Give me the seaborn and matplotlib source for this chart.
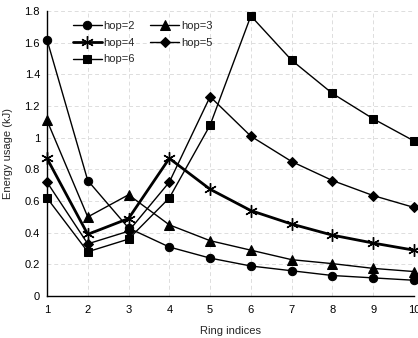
import pandas as pd
import seaborn as sns
import matplotlib.pyplot as plt

# ring indices and energy usage (kJ) per hop count
rings = [1, 2, 3, 4, 5, 6, 7, 8, 9, 10]
hop2 = [1.62, 0.73, 0.43, 0.31, 0.24, 0.19, 0.16, 0.13, 0.115, 0.10]
hop3 = [1.11, 0.50, 0.64, 0.45, 0.35, 0.29, 0.23, 0.205, 0.175, 0.155]
hop4 = [0.87, 0.39, 0.49, 0.87, 0.675, 0.54, 0.455, 0.385, 0.335, 0.29]
hop5 = [0.72, 0.33, 0.41, 0.72, 1.26, 1.01, 0.85, 0.73, 0.635, 0.56]
hop6 = [0.62, 0.28, 0.36, 0.62, 1.08, 1.77, 1.49, 1.28, 1.12, 0.98]
labels = ["hop=2", "hop=3", "hop=4", "hop=5", "hop=6"]

sns.set_style("white")
plt.rcParams['font.family'] = ['Liberation Sans', 'DejaVu Sans']

fig = plt.figure(figsize=(4.18, 3.38), dpi=100)
ax = fig.add_axes([0.1124, 0.124, 0.878, 0.843])

styles = [
    dict(marker="o", markersize=6, linewidth=1.0),
    dict(marker="^", markersize=6.5, linewidth=1.0),
    dict(marker=(6, 2, 0), markersize=9, linewidth=2.0, markeredgewidth=1.0),
    dict(marker="D", markersize=5, linewidth=1.0),
    dict(marker="s", markersize=6, linewidth=1.0),
]

for vals, lab, st in zip([hop2, hop3, hop4, hop5, hop6], labels, styles):
    df = pd.DataFrame({"ring": rings, "energy": vals})
    sns.lineplot(data=df, x="ring", y="energy", ax=ax, color="black",
                 markerfacecolor="black", markeredgecolor="black",
                 label=lab, clip_on=False, zorder=3, **st)

ax.set_xlim(1, 10)
ax.set_ylim(0, 1.8)
ax.set_xticks(rings)
ax.set_yticks([0, 0.2, 0.4, 0.6, 0.8, 1, 1.2, 1.4, 1.6, 1.8])
ax.set_yticklabels(["0", "0.2", "0.4", "0.6", "0.8", "1", "1.2", "1.4", "1.6", "1.8"])
ax.tick_params(labelsize=8, length=3, direction="inout", width=0.8, colors="black")
ax.tick_params(axis="x", pad=5)
ax.grid(True, color="#dddddd", linestyle=(0, (4, 3)), linewidth=0.7)
for s in ["top", "right"]:
    ax.spines[s].set_visible(False)
for s in ["left", "bottom"]:
    ax.spines[s].set_color("black")
    ax.spines[s].set_linewidth(1.0)

ax.set_xlabel("Ring indices", fontsize=8, labelpad=8)
ax.set_ylabel("Energy usage (kJ)", fontsize=8, labelpad=8)

# row-wise legend order in two columns
h, l = ax.get_legend_handles_labels()
order = [0, 2, 4, 1, 3]
ax.legend([h[i] for i in order], [l[i] for i in order], ncol=2, frameon=False,
          fontsize=8, loc="upper left", bbox_to_anchor=(0.07, 0.965),
          handlelength=2.6, handletextpad=0.15, columnspacing=1.4,
          labelspacing=0.6, borderaxespad=0, borderpad=0)

fig.savefig("out.png", dpi=100)
